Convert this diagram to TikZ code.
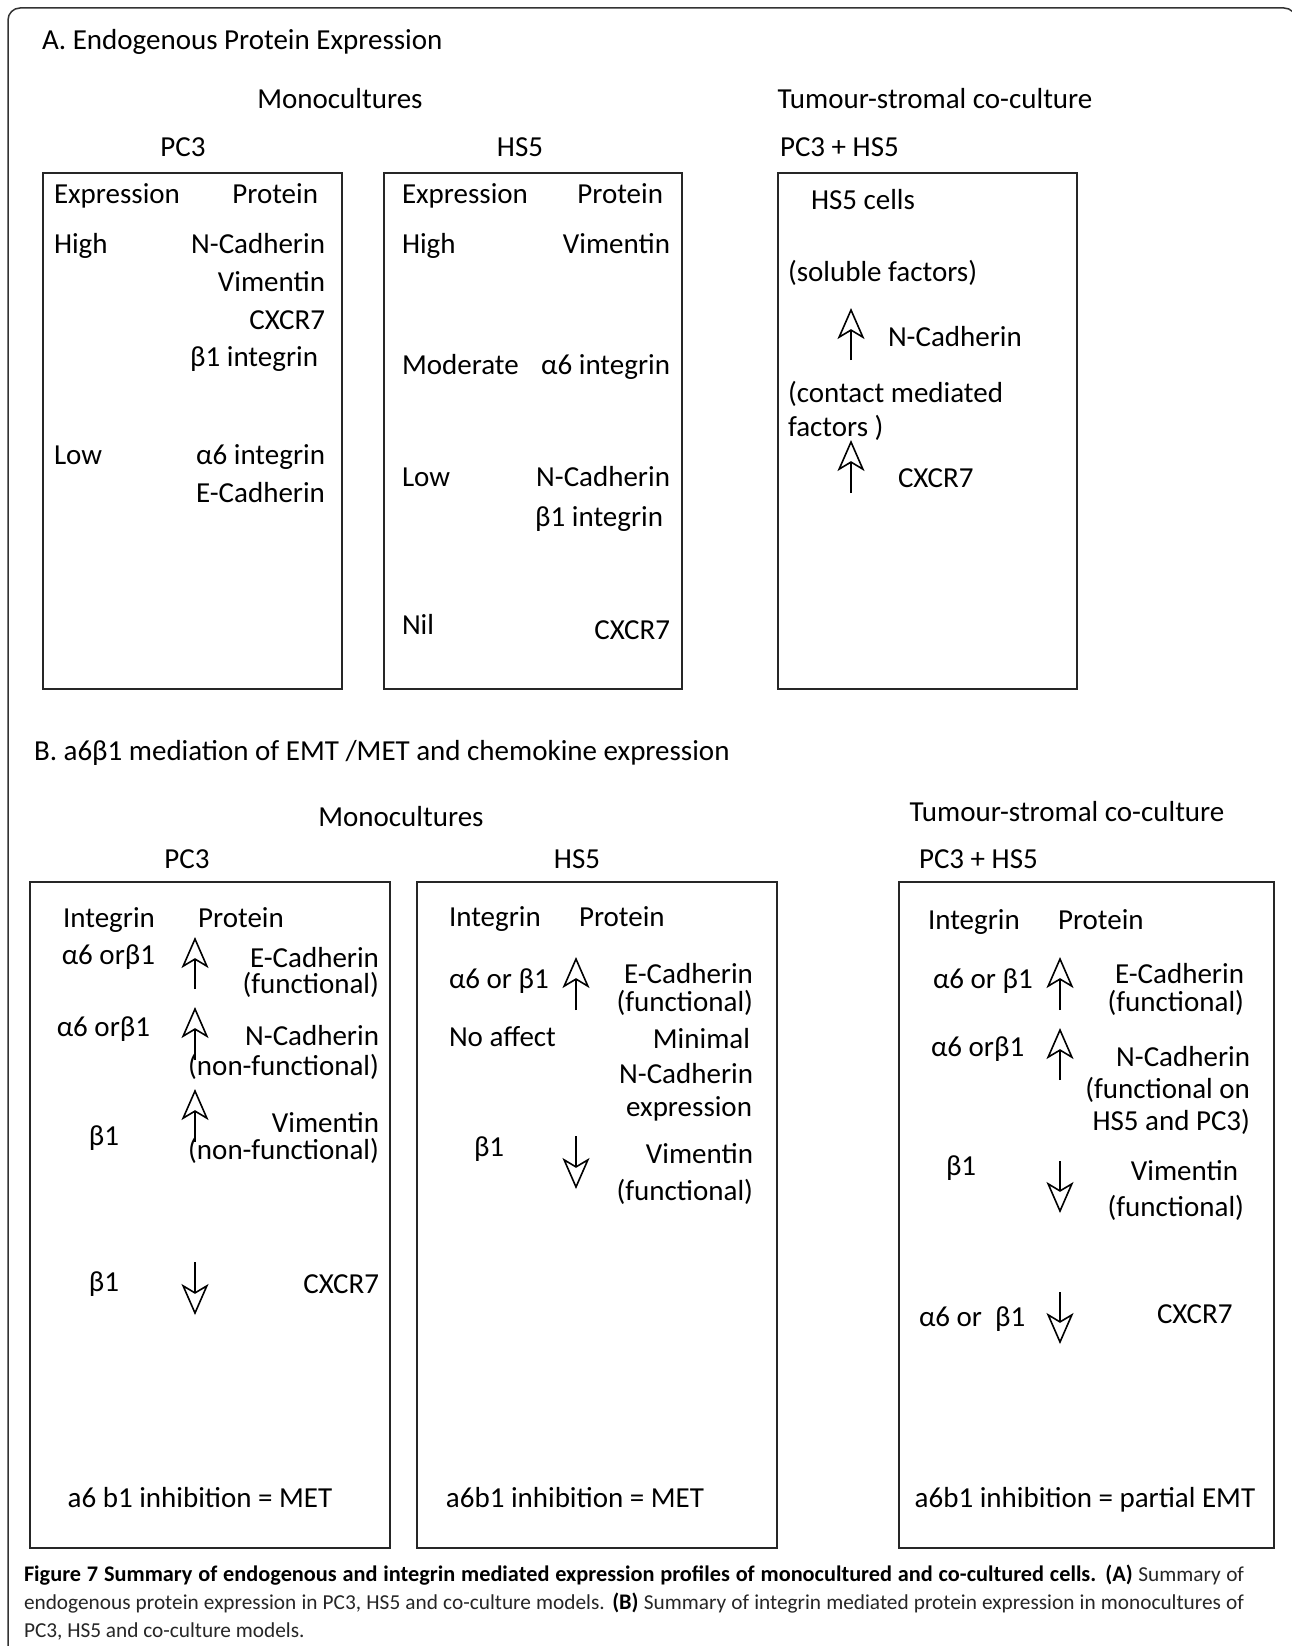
\documentclass[tikz,border=0pt]{standalone}
\usepackage{fontspec}
\setmainfont{Carlito}
\usetikzlibrary{arrows.meta}
\begin{document}
\begin{tikzpicture}[x=1pt,y=-1pt,
  every node/.style={inner sep=0pt, outer sep=0pt},
  txt/.style={font=\fontsize{29}{34}\selectfont},
  lft/.style={txt, anchor=base west},
  rgt/.style={txt, anchor=base east},
  ctr/.style={txt, anchor=base},
  captext/.style={font=\fontsize{21.3}{26}\selectfont, anchor=base west, text=black!85},
  panel/.style={draw=black!85, line width=2pt},
  sigarrow/.style={line width=1.6pt, -{Stealth[open, length=31pt, width=27pt, inset=8pt]}}]
\useasboundingbox (0,0) rectangle (1292,1646);
\fill[white] (0,0) rectangle (1292,1646);
% outer frame
\draw[line width=1.5pt, black!80, rounded corners=12pt] (8,1670) -- (8,8) -- (1296,8) -- (1296,1670);

% ===== Section A =====
\node[lft] (tA) at (42,49) {A. Endogenous Protein Expression};
\node[ctr] (monoA) at (340,108) {Monocultures};
\node[ctr] (tumA) at (935,108) {Tumour-stromal co-culture};
\node[ctr] (pcA) at (183,156) {PC3};
\node[ctr] (hsA) at (520,156) {HS5};
\node[lft] (pchsA) at (780,156) {PC3 + HS5};

\draw[panel] (43,173) rectangle (342,689);
\draw[panel] (384,173) rectangle (682,689);
\draw[panel] (778,173) rectangle (1077,689);

% PC3 A
\node[lft] (a1) at (54,203) {Expression};
\node[rgt] (a2) at (318,203) {Protein};
\node[lft] (a3) at (54,253) {High};
\node[rgt] (a4) at (325,253) {N-Cadherin};
\node[rgt] (a5) at (325,291) {Vimentin};
\node[rgt] (a6) at (325,329) {CXCR7};
\node[rgt] (a7) at (318,366) {β1 integrin};
\node[lft] (a8) at (54,464) {Low};
\node[rgt] (a9) at (325,464) {α6 integrin};
\node[rgt] (a10) at (325,502) {E-Cadherin};

% HS5 A
\node[lft] (b1) at (402,203) {Expression};
\node[rgt] (b2) at (663,203) {Protein};
\node[lft] (b3) at (402,253) {High};
\node[rgt] (b4) at (670,253) {Vimentin};
\node[lft] (b5) at (402,374) {Moderate};
\node[rgt] (b6) at (670,374) {α6 integrin};
\node[lft] (b7) at (402,486) {Low};
\node[rgt] (b8) at (670,486) {N-Cadherin};
\node[rgt] (b9) at (663,526) {β1 integrin};
\node[lft] (b10) at (402,634) {Nil};
\node[rgt] (b11) at (670,639) {CXCR7};

% Co-culture A
\node[lft] (c1) at (811,209) {HS5 cells};
\node[lft] (c2) at (788,281) {(soluble factors)};
\coordinate (cA1s) at (851,360); \coordinate (cA1e) at (851,308);
\draw[sigarrow] (cA1s) -- (cA1e);
\node[lft] (c3) at (888,346) {N-Cadherin};
\node[lft] (c4) at (788,402) {(contact mediated};
\node[lft] (c5) at (788,436) {factors )};
\coordinate (cA2s) at (851,493); \coordinate (cA2e) at (851,440);
\draw[sigarrow] (cA2s) -- (cA2e);
\node[lft] (c6) at (898,487) {CXCR7};

% ===== Section B =====
\node[lft] (tB) at (34,760) {B. a6β1 mediation of EMT /MET and chemokine expression};
\node[ctr] (monoB) at (401,826) {Monocultures};
\node[ctr] (tumB) at (1067,821) {Tumour-stromal co-culture};
\node[ctr] (pcB) at (187,868) {PC3};
\node[ctr] (hsB) at (577,868) {HS5};
\node[lft] (pchsB) at (919,868) {PC3 + HS5};

\draw[panel] (30,882) rectangle (390,1548);
\draw[panel] (417,882) rectangle (777,1548);
\draw[panel] (899,882) rectangle (1274,1548);

% PC3 B
\node[ctr] (d1) at (109,927) {Integrin};
\node[ctr] (d2) at (241,927) {Protein};
\node[rgt] (d3) at (155,964) {α6 orβ1};
\coordinate (dA1s) at (195,989); \coordinate (dA1e) at (195,937);
\draw[sigarrow] (dA1s) -- (dA1e);
\node[rgt] (d4) at (379,967) {E-Cadherin};
\node[rgt] (d5) at (379,993) {(functional)};
\node[rgt] (d6) at (150,1036) {α6 orβ1};
\coordinate (dA2s) at (195,1060); \coordinate (dA2e) at (195,1007);
\draw[sigarrow] (dA2s) -- (dA2e);
\node[rgt] (d7) at (379,1045) {N-Cadherin};
\node[rgt] (d8) at (379,1075) {(non-functional)};
\node[ctr] (d9) at (104,1145) {β1};
\coordinate (dA3s) at (195,1142); \coordinate (dA3e) at (195,1089);
\draw[sigarrow] (dA3s) -- (dA3e);
\node[rgt] (d10) at (379,1132) {Vimentin};
\node[rgt] (d11) at (379,1159) {(non-functional)};
\node[ctr] (d12) at (104,1291) {β1};
\coordinate (dA4s) at (195,1262); \coordinate (dA4e) at (195,1315);
\draw[sigarrow] (dA4s) -- (dA4e);
\node[rgt] (d13) at (379,1293) {CXCR7};
\node[ctr] (d14) at (200,1507) {a6 b1 inhibition = MET};

% HS5 B
\node[lft] (e1) at (449,926) {Integrin};
\node[lft] (e2) at (579,926) {Protein};
\node[lft] (e3) at (449,988) {α6 or β1};
\coordinate (eA1s) at (576,1010); \coordinate (eA1e) at (576,957);
\draw[sigarrow] (eA1s) -- (eA1e);
\node[rgt] (e4) at (753,983) {E-Cadherin};
\node[rgt] (e5) at (753,1011) {(functional)};
\node[lft] (e6) at (449,1046) {No affect};
\node[rgt] (e7) at (750,1048) {Minimal};
\node[rgt] (e8) at (753,1083) {N-Cadherin};
\node[rgt] (e9) at (752,1116) {expression};
\node[lft] (e10) at (474,1156) {β1};
\coordinate (eA2s) at (576,1136); \coordinate (eA2e) at (576,1189);
\draw[sigarrow] (eA2s) -- (eA2e);
\node[rgt] (e11) at (753,1163) {Vimentin};
\node[rgt] (e12) at (753,1200) {(functional)};
\node[ctr] (e13) at (575,1507) {a6b1 inhibition = MET};

% Co-culture B
\node[lft] (f1) at (928,929) {Integrin};
\node[lft] (f2) at (1058,929) {Protein};
\node[lft] (f3) at (933,988) {α6 or β1};
\coordinate (fA1s) at (1060,1010); \coordinate (fA1e) at (1060,957);
\draw[sigarrow] (fA1s) -- (fA1e);
\node[rgt] (f4) at (1244,983) {E-Cadherin};
\node[rgt] (f5) at (1244,1011) {(functional)};
\node[lft] (f6) at (931,1056) {α6 orβ1};
\coordinate (fA2s) at (1060,1080); \coordinate (fA2e) at (1060,1028);
\draw[sigarrow] (fA2s) -- (fA2e);
\node[rgt] (f7) at (1250,1066) {N-Cadherin};
\node[rgt] (f8) at (1250,1098) {(functional on};
\node[rgt] (f9) at (1250,1130) {HS5 and PC3)};
\node[lft] (f10) at (946,1175) {β1};
\coordinate (fA3s) at (1060,1161); \coordinate (fA3e) at (1060,1213);
\draw[sigarrow] (fA3s) -- (fA3e);
\node[rgt] (f11) at (1238,1180) {Vimentin};
\node[rgt] (f12) at (1244,1216) {(functional)};
\node[lft] (f13) at (919,1326) {α6 or\ \ β1};
\coordinate (fA4s) at (1060,1292); \coordinate (fA4e) at (1060,1344);
\draw[sigarrow] (fA4s) -- (fA4e);
\node[lft] (f14) at (1157,1323) {CXCR7};
\node[ctr] (f15) at (1085,1507) {a6b1 inhibition = partial EMT};

% ===== Caption =====
\node[captext] (cap1) at (24,1581) {\hbox to 1220pt{\textcolor{black}{\fontsize{22.3}{26}\selectfont\bfseries Figure 7 Summary of endogenous and integrin mediated expression profiles of monocultured and co-cultured cells. (A)} Summary of}};
\node[captext] (cap2) at (24,1609) {\hbox to 1220pt{endogenous protein expression in PC3, HS5 and co-culture models. \textcolor{black}{\fontsize{22.3}{26}\selectfont\bfseries (B)} Summary of integrin mediated protein expression in monocultures of}};
\node[captext] (cap3) at (24,1637) {PC3, HS5 and co-culture models.};
\end{tikzpicture}
\end{document}
